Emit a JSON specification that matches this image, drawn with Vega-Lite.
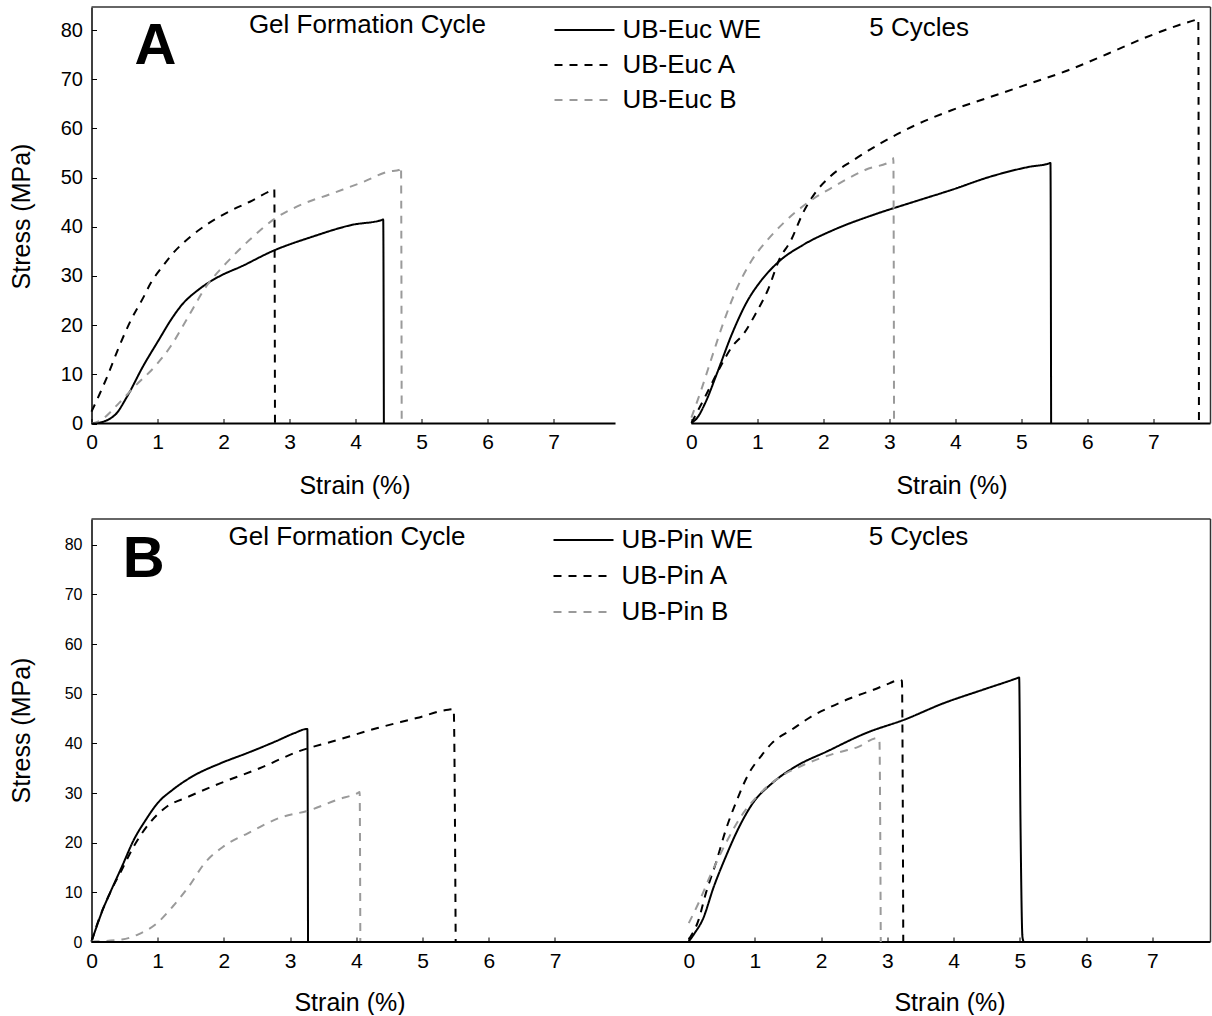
{
  "$schema": "https://vega.github.io/schema/vega-lite/v6.json",
  "background": "white",
  "padding": {"left": 9.5, "top": 6, "right": 0, "bottom": 0},
  "columns": 1,
  "spacing": 20,
  "resolve": {"scale": {"color": "independent", "strokeDash": "independent"}, "legend": {"color": "independent", "strokeDash": "independent"}},
  "config": {
    "font": "Liberation Sans",
    "view": {"stroke": null},
    "axis": {"grid": false, "labelColor": "#000", "titleColor": "#000", "tickColor": "#000", "titleFontWeight": "normal", "labelFont": "Liberation Sans", "titleFont": "Liberation Sans"},
    "text": {"font": "Liberation Sans", "color": "#000"},
    "line": {"interpolate": "monotone", "strokeWidth": 2}
  },
  "datasets": {
    "euc": [
      {"part": "left", "series": "UB-Euc WE", "strain": 0, "stress": 0},
      {"part": "left", "series": "UB-Euc WE", "strain": 0.09, "stress": 0.1},
      {"part": "left", "series": "UB-Euc WE", "strain": 0.36, "stress": 1.8},
      {"part": "left", "series": "UB-Euc WE", "strain": 0.54, "stress": 5.5},
      {"part": "left", "series": "UB-Euc WE", "strain": 0.78, "stress": 11.6},
      {"part": "left", "series": "UB-Euc WE", "strain": 1.02, "stress": 17},
      {"part": "left", "series": "UB-Euc WE", "strain": 1.2, "stress": 21},
      {"part": "left", "series": "UB-Euc WE", "strain": 1.38, "stress": 24.3},
      {"part": "left", "series": "UB-Euc WE", "strain": 1.62, "stress": 27.2},
      {"part": "left", "series": "UB-Euc WE", "strain": 1.92, "stress": 29.8},
      {"part": "left", "series": "UB-Euc WE", "strain": 2.28, "stress": 32},
      {"part": "left", "series": "UB-Euc WE", "strain": 2.75, "stress": 35.1},
      {"part": "left", "series": "UB-Euc WE", "strain": 3.35, "stress": 38},
      {"part": "left", "series": "UB-Euc WE", "strain": 3.95, "stress": 40.4},
      {"part": "left", "series": "UB-Euc WE", "strain": 4.4, "stress": 41.4},
      {"part": "left", "series": "UB-Euc WE", "strain": 4.42, "stress": 41.5},
      {"part": "left", "series": "UB-Euc WE", "strain": 4.43, "stress": 0},
      {"part": "left", "series": "UB-Euc A", "strain": 0, "stress": 2.4},
      {"part": "left", "series": "UB-Euc A", "strain": 0.12, "stress": 5.9},
      {"part": "left", "series": "UB-Euc A", "strain": 0.24, "stress": 9.6},
      {"part": "left", "series": "UB-Euc A", "strain": 0.42, "stress": 15.7},
      {"part": "left", "series": "UB-Euc A", "strain": 0.6, "stress": 21.1},
      {"part": "left", "series": "UB-Euc A", "strain": 0.78, "stress": 25.5},
      {"part": "left", "series": "UB-Euc A", "strain": 0.9, "stress": 28.6},
      {"part": "left", "series": "UB-Euc A", "strain": 1.08, "stress": 32},
      {"part": "left", "series": "UB-Euc A", "strain": 1.26, "stress": 35},
      {"part": "left", "series": "UB-Euc A", "strain": 1.5, "stress": 38},
      {"part": "left", "series": "UB-Euc A", "strain": 1.74, "stress": 40.4},
      {"part": "left", "series": "UB-Euc A", "strain": 2.04, "stress": 42.8},
      {"part": "left", "series": "UB-Euc A", "strain": 2.4, "stress": 45.1},
      {"part": "left", "series": "UB-Euc A", "strain": 2.75, "stress": 47.5},
      {"part": "left", "series": "UB-Euc A", "strain": 2.77, "stress": 47.6},
      {"part": "left", "series": "UB-Euc A", "strain": 2.78, "stress": 0},
      {"part": "left", "series": "UB-Euc B", "strain": 0, "stress": 0},
      {"part": "left", "series": "UB-Euc B", "strain": 0.12, "stress": 0.5},
      {"part": "left", "series": "UB-Euc B", "strain": 0.42, "stress": 4.2},
      {"part": "left", "series": "UB-Euc B", "strain": 0.66, "stress": 7.6},
      {"part": "left", "series": "UB-Euc B", "strain": 0.96, "stress": 11.6},
      {"part": "left", "series": "UB-Euc B", "strain": 1.2, "stress": 15.7},
      {"part": "left", "series": "UB-Euc B", "strain": 1.44, "stress": 21.1},
      {"part": "left", "series": "UB-Euc B", "strain": 1.74, "stress": 27.9},
      {"part": "left", "series": "UB-Euc B", "strain": 2.04, "stress": 32.6},
      {"part": "left", "series": "UB-Euc B", "strain": 2.4, "stress": 37.4},
      {"part": "left", "series": "UB-Euc B", "strain": 2.75, "stress": 41.4},
      {"part": "left", "series": "UB-Euc B", "strain": 3.11, "stress": 44.1},
      {"part": "left", "series": "UB-Euc B", "strain": 3.65, "stress": 46.8},
      {"part": "left", "series": "UB-Euc B", "strain": 4.13, "stress": 49.2},
      {"part": "left", "series": "UB-Euc B", "strain": 4.49, "stress": 51.2},
      {"part": "left", "series": "UB-Euc B", "strain": 4.67, "stress": 51.6},
      {"part": "left", "series": "UB-Euc B", "strain": 4.69, "stress": 52.2},
      {"part": "left", "series": "UB-Euc B", "strain": 4.7, "stress": 0},
      {"part": "right", "series": "UB-Euc WE", "strain": 0, "stress": 0.1},
      {"part": "right", "series": "UB-Euc WE", "strain": 0.09, "stress": 1.2},
      {"part": "right", "series": "UB-Euc WE", "strain": 0.21, "stress": 4.2},
      {"part": "right", "series": "UB-Euc WE", "strain": 0.39, "stress": 10.3},
      {"part": "right", "series": "UB-Euc WE", "strain": 0.62, "stress": 18.4},
      {"part": "right", "series": "UB-Euc WE", "strain": 0.86, "stress": 25.2},
      {"part": "right", "series": "UB-Euc WE", "strain": 1.03, "stress": 28.6},
      {"part": "right", "series": "UB-Euc WE", "strain": 1.33, "stress": 33},
      {"part": "right", "series": "UB-Euc WE", "strain": 1.69, "stress": 36.3},
      {"part": "right", "series": "UB-Euc WE", "strain": 2.16, "stress": 39.4},
      {"part": "right", "series": "UB-Euc WE", "strain": 2.75, "stress": 42.4},
      {"part": "right", "series": "UB-Euc WE", "strain": 3.35, "stress": 45},
      {"part": "right", "series": "UB-Euc WE", "strain": 3.94, "stress": 47.5},
      {"part": "right", "series": "UB-Euc WE", "strain": 4.53, "stress": 50.2},
      {"part": "right", "series": "UB-Euc WE", "strain": 5.12, "stress": 52.2},
      {"part": "right", "series": "UB-Euc WE", "strain": 5.42, "stress": 52.9},
      {"part": "right", "series": "UB-Euc WE", "strain": 5.44, "stress": 53},
      {"part": "right", "series": "UB-Euc WE", "strain": 5.45, "stress": 0},
      {"part": "right", "series": "UB-Euc A", "strain": 0, "stress": 0.1},
      {"part": "right", "series": "UB-Euc A", "strain": 0.21, "stress": 5.5},
      {"part": "right", "series": "UB-Euc A", "strain": 0.39, "stress": 10.3},
      {"part": "right", "series": "UB-Euc A", "strain": 0.62, "stress": 15.7},
      {"part": "right", "series": "UB-Euc A", "strain": 0.8, "stress": 18.4},
      {"part": "right", "series": "UB-Euc A", "strain": 0.98, "stress": 22.5},
      {"part": "right", "series": "UB-Euc A", "strain": 1.16, "stress": 27.2},
      {"part": "right", "series": "UB-Euc A", "strain": 1.33, "stress": 33.3},
      {"part": "right", "series": "UB-Euc A", "strain": 1.51, "stress": 37.3},
      {"part": "right", "series": "UB-Euc A", "strain": 1.69, "stress": 42.8},
      {"part": "right", "series": "UB-Euc A", "strain": 1.87, "stress": 46.8},
      {"part": "right", "series": "UB-Euc A", "strain": 2.1, "stress": 50.2},
      {"part": "right", "series": "UB-Euc A", "strain": 2.46, "stress": 53.6},
      {"part": "right", "series": "UB-Euc A", "strain": 2.87, "stress": 57},
      {"part": "right", "series": "UB-Euc A", "strain": 3.35, "stress": 60.4},
      {"part": "right", "series": "UB-Euc A", "strain": 3.94, "stress": 63.7},
      {"part": "right", "series": "UB-Euc A", "strain": 4.53, "stress": 66.4},
      {"part": "right", "series": "UB-Euc A", "strain": 5.12, "stress": 69.1},
      {"part": "right", "series": "UB-Euc A", "strain": 5.72, "stress": 71.9},
      {"part": "right", "series": "UB-Euc A", "strain": 6.31, "stress": 75.2},
      {"part": "right", "series": "UB-Euc A", "strain": 6.9, "stress": 78.6},
      {"part": "right", "series": "UB-Euc A", "strain": 7.38, "stress": 81},
      {"part": "right", "series": "UB-Euc A", "strain": 7.64, "stress": 82.1},
      {"part": "right", "series": "UB-Euc A", "strain": 7.68, "stress": 82.3},
      {"part": "right", "series": "UB-Euc A", "strain": 7.69, "stress": 0},
      {"part": "right", "series": "UB-Euc B", "strain": 0, "stress": 1.2},
      {"part": "right", "series": "UB-Euc B", "strain": 0.15, "stress": 6.9},
      {"part": "right", "series": "UB-Euc B", "strain": 0.33, "stress": 14.3},
      {"part": "right", "series": "UB-Euc B", "strain": 0.5, "stress": 21.1},
      {"part": "right", "series": "UB-Euc B", "strain": 0.68, "stress": 27.2},
      {"part": "right", "series": "UB-Euc B", "strain": 0.92, "stress": 33.3},
      {"part": "right", "series": "UB-Euc B", "strain": 1.15, "stress": 37.3},
      {"part": "right", "series": "UB-Euc B", "strain": 1.39, "stress": 40.7},
      {"part": "right", "series": "UB-Euc B", "strain": 1.75, "stress": 44.8},
      {"part": "right", "series": "UB-Euc B", "strain": 2.16, "stress": 48.2},
      {"part": "right", "series": "UB-Euc B", "strain": 2.64, "stress": 51.6},
      {"part": "right", "series": "UB-Euc B", "strain": 3.05, "stress": 53.6},
      {"part": "right", "series": "UB-Euc B", "strain": 3.06, "stress": 54},
      {"part": "right", "series": "UB-Euc B", "strain": 3.07, "stress": 0}
    ],
    "pin": [
      {"part": "left", "series": "UB-Pin WE", "strain": 0, "stress": 0.1},
      {"part": "left", "series": "UB-Pin WE", "strain": 0.08, "stress": 3.2},
      {"part": "left", "series": "UB-Pin WE", "strain": 0.17, "stress": 6.5},
      {"part": "left", "series": "UB-Pin WE", "strain": 0.28, "stress": 9.9},
      {"part": "left", "series": "UB-Pin WE", "strain": 0.46, "stress": 15.2},
      {"part": "left", "series": "UB-Pin WE", "strain": 0.64, "stress": 20.6},
      {"part": "left", "series": "UB-Pin WE", "strain": 0.82, "stress": 24.6},
      {"part": "left", "series": "UB-Pin WE", "strain": 1.0, "stress": 28},
      {"part": "left", "series": "UB-Pin WE", "strain": 1.23, "stress": 30.7},
      {"part": "left", "series": "UB-Pin WE", "strain": 1.53, "stress": 33.4},
      {"part": "left", "series": "UB-Pin WE", "strain": 1.95, "stress": 36},
      {"part": "left", "series": "UB-Pin WE", "strain": 2.36, "stress": 38.1},
      {"part": "left", "series": "UB-Pin WE", "strain": 2.78, "stress": 40.4},
      {"part": "left", "series": "UB-Pin WE", "strain": 3.07, "stress": 42.1},
      {"part": "left", "series": "UB-Pin WE", "strain": 3.25, "stress": 42.9},
      {"part": "left", "series": "UB-Pin WE", "strain": 3.26, "stress": 42.9},
      {"part": "left", "series": "UB-Pin WE", "strain": 3.27, "stress": 0},
      {"part": "left", "series": "UB-Pin A", "strain": 0, "stress": 0.1},
      {"part": "left", "series": "UB-Pin A", "strain": 0.11, "stress": 4.5},
      {"part": "left", "series": "UB-Pin A", "strain": 0.28, "stress": 9.9},
      {"part": "left", "series": "UB-Pin A", "strain": 0.46, "stress": 14.6},
      {"part": "left", "series": "UB-Pin A", "strain": 0.64, "stress": 19.3},
      {"part": "left", "series": "UB-Pin A", "strain": 0.88, "stress": 24},
      {"part": "left", "series": "UB-Pin A", "strain": 1.11, "stress": 27},
      {"part": "left", "series": "UB-Pin A", "strain": 1.47, "stress": 29.3},
      {"part": "left", "series": "UB-Pin A", "strain": 1.95, "stress": 32},
      {"part": "left", "series": "UB-Pin A", "strain": 2.54, "stress": 35},
      {"part": "left", "series": "UB-Pin A", "strain": 3.13, "stress": 38.4},
      {"part": "left", "series": "UB-Pin A", "strain": 3.72, "stress": 40.7},
      {"part": "left", "series": "UB-Pin A", "strain": 4.32, "stress": 43.1},
      {"part": "left", "series": "UB-Pin A", "strain": 4.91, "stress": 45.1},
      {"part": "left", "series": "UB-Pin A", "strain": 5.39, "stress": 46.8},
      {"part": "left", "series": "UB-Pin A", "strain": 5.47, "stress": 46.9},
      {"part": "left", "series": "UB-Pin A", "strain": 5.5, "stress": 0},
      {"part": "left", "series": "UB-Pin B", "strain": 0, "stress": 0.1},
      {"part": "left", "series": "UB-Pin B", "strain": 0.46, "stress": 0.5},
      {"part": "left", "series": "UB-Pin B", "strain": 0.7, "stress": 1.5},
      {"part": "left", "series": "UB-Pin B", "strain": 0.99, "stress": 3.8},
      {"part": "left", "series": "UB-Pin B", "strain": 1.23, "stress": 7.2},
      {"part": "left", "series": "UB-Pin B", "strain": 1.47, "stress": 11.2},
      {"part": "left", "series": "UB-Pin B", "strain": 1.71, "stress": 15.9},
      {"part": "left", "series": "UB-Pin B", "strain": 2.0, "stress": 19.3},
      {"part": "left", "series": "UB-Pin B", "strain": 2.36, "stress": 21.9},
      {"part": "left", "series": "UB-Pin B", "strain": 2.84, "stress": 25},
      {"part": "left", "series": "UB-Pin B", "strain": 3.31, "stress": 26.6},
      {"part": "left", "series": "UB-Pin B", "strain": 3.72, "stress": 28.7},
      {"part": "left", "series": "UB-Pin B", "strain": 4.02, "stress": 30},
      {"part": "left", "series": "UB-Pin B", "strain": 4.05, "stress": 30.2},
      {"part": "left", "series": "UB-Pin B", "strain": 4.06, "stress": 0},
      {"part": "right", "series": "UB-Pin WE", "strain": 0, "stress": 0.1},
      {"part": "right", "series": "UB-Pin WE", "strain": 0.09, "stress": 1.8},
      {"part": "right", "series": "UB-Pin WE", "strain": 0.21, "stress": 4.5},
      {"part": "right", "series": "UB-Pin WE", "strain": 0.38, "stress": 11.2},
      {"part": "right", "series": "UB-Pin WE", "strain": 0.56, "stress": 17.2},
      {"part": "right", "series": "UB-Pin WE", "strain": 0.74, "stress": 22.6},
      {"part": "right", "series": "UB-Pin WE", "strain": 0.97, "stress": 28},
      {"part": "right", "series": "UB-Pin WE", "strain": 1.26, "stress": 32},
      {"part": "right", "series": "UB-Pin WE", "strain": 1.62, "stress": 35.4},
      {"part": "right", "series": "UB-Pin WE", "strain": 2.09, "stress": 38.4},
      {"part": "right", "series": "UB-Pin WE", "strain": 2.68, "stress": 42.1},
      {"part": "right", "series": "UB-Pin WE", "strain": 3.26, "stress": 44.8},
      {"part": "right", "series": "UB-Pin WE", "strain": 3.85, "stress": 48.1},
      {"part": "right", "series": "UB-Pin WE", "strain": 4.44, "stress": 50.8},
      {"part": "right", "series": "UB-Pin WE", "strain": 4.97, "stress": 53.2},
      {"part": "right", "series": "UB-Pin WE", "strain": 4.99, "stress": 53.3},
      {"part": "right", "series": "UB-Pin WE", "strain": 5.01, "stress": 24.6},
      {"part": "right", "series": "UB-Pin WE", "strain": 5.04, "stress": 1},
      {"part": "right", "series": "UB-Pin WE", "strain": 5.06, "stress": 0},
      {"part": "right", "series": "UB-Pin A", "strain": 0, "stress": 0.5},
      {"part": "right", "series": "UB-Pin A", "strain": 0.15, "stress": 4.5},
      {"part": "right", "series": "UB-Pin A", "strain": 0.26, "stress": 9.9},
      {"part": "right", "series": "UB-Pin A", "strain": 0.41, "stress": 15.9},
      {"part": "right", "series": "UB-Pin A", "strain": 0.56, "stress": 22.6},
      {"part": "right", "series": "UB-Pin A", "strain": 0.71, "stress": 28},
      {"part": "right", "series": "UB-Pin A", "strain": 0.91, "stress": 34},
      {"part": "right", "series": "UB-Pin A", "strain": 1.09, "stress": 37.4},
      {"part": "right", "series": "UB-Pin A", "strain": 1.26, "stress": 40.1},
      {"part": "right", "series": "UB-Pin A", "strain": 1.56, "stress": 42.8},
      {"part": "right", "series": "UB-Pin A", "strain": 1.85, "stress": 45.4},
      {"part": "right", "series": "UB-Pin A", "strain": 2.15, "stress": 47.4},
      {"part": "right", "series": "UB-Pin A", "strain": 2.44, "stress": 49.1},
      {"part": "right", "series": "UB-Pin A", "strain": 2.79, "stress": 50.8},
      {"part": "right", "series": "UB-Pin A", "strain": 3.03, "stress": 52.1},
      {"part": "right", "series": "UB-Pin A", "strain": 3.18, "stress": 52.8},
      {"part": "right", "series": "UB-Pin A", "strain": 3.22, "stress": 52.6},
      {"part": "right", "series": "UB-Pin A", "strain": 3.24, "stress": 0},
      {"part": "right", "series": "UB-Pin B", "strain": 0, "stress": 3.8},
      {"part": "right", "series": "UB-Pin B", "strain": 0.15, "stress": 7.9},
      {"part": "right", "series": "UB-Pin B", "strain": 0.32, "stress": 13.2},
      {"part": "right", "series": "UB-Pin B", "strain": 0.56, "stress": 19.9},
      {"part": "right", "series": "UB-Pin B", "strain": 0.79, "stress": 25.3},
      {"part": "right", "series": "UB-Pin B", "strain": 1.03, "stress": 29.3},
      {"part": "right", "series": "UB-Pin B", "strain": 1.32, "stress": 32.7},
      {"part": "right", "series": "UB-Pin B", "strain": 1.74, "stress": 35.7},
      {"part": "right", "series": "UB-Pin B", "strain": 2.21, "stress": 38},
      {"part": "right", "series": "UB-Pin B", "strain": 2.56, "stress": 39.3},
      {"part": "right", "series": "UB-Pin B", "strain": 2.85, "stress": 41.1},
      {"part": "right", "series": "UB-Pin B", "strain": 2.88, "stress": 40.5},
      {"part": "right", "series": "UB-Pin B", "strain": 2.9, "stress": 0}
    ]
  },
  "concat": [
    {
      "width": 1119,
      "height": 416.5,
      "data": {"name": "euc"},
      "resolve": {"scale": {"x": "independent"}},
      "layer": [
        {
          "layer": [
            {
              "transform": [{"filter": "datum.part === 'left'"}],
              "mark": {"type": "line"},
              "encoding": {
                "x": {"field": "strain", "type": "quantitative", "scale": {"domain": [0, 16.955], "nice": false, "zero": false},
                      "axis": {"orient": "bottom", "values": [0, 1, 2, 3, 4, 5, 6, 7], "format": "d", "domain": false, "tickSize": -5, "tickWidth": 1, "labelFontSize": 21, "labelPadding": 13, "labelFlush": false,
                               "title": "Strain (%)", "titleFontSize": 25, "titleX": 263, "titleY": 69.5, "titleAlign": "center", "titleBaseline": "alphabetic"}},
                "y": {"field": "stress", "type": "quantitative", "scale": {"domain": [0, 84.7], "nice": false},
                      "axis": {"values": [0, 10, 20, 30, 40, 50, 60, 70, 80], "domain": true, "domainColor": "#000", "domainWidth": 1.5, "tickSize": -5, "tickWidth": 1, "labelFontSize": 20, "labelPadding": 14, "labelFlush": false,
                               "title": "Stress (MPa)", "titleFontSize": 25, "titleX": -70, "titleY": 209, "titleAngle": 270, "titleAlign": "center", "titleBaseline": "middle"}},
                "color": {"field": "series", "type": "nominal", "scale": {"domain": ["UB-Euc WE", "UB-Euc A", "UB-Euc B"], "range": ["#000000", "#000000", "#9a9a9a"]},
                          "legend": {"title": null, "orient": "none", "legendX": 462, "legendY": 10.5, "padding": 0, "symbolType": "stroke", "symbolSize": 3600, "symbolStrokeWidth": 2, "clipHeight": 25, "rowPadding": 8, "labelFontSize": 26, "labelOffset": 7, "labelColor": "#000", "labelLimit": 400}},
                "strokeDash": {"field": "series", "type": "nominal", "scale": {"domain": ["UB-Euc WE", "UB-Euc A", "UB-Euc B"], "range": [[1, 0], [8, 7], [8, 7]]},
                          "legend": {"title": null, "orient": "none", "legendX": 462, "legendY": 10.5, "padding": 0, "symbolType": "stroke", "symbolSize": 3600, "symbolStrokeWidth": 2, "clipHeight": 25, "rowPadding": 8, "labelFontSize": 26, "labelOffset": 7, "labelColor": "#000", "labelLimit": 400}}
              }
            },
            {
              "data": {"values": [{}]},
              "mark": {"type": "rule", "color": "#000", "strokeWidth": 2},
              "encoding": {"x": {"datum": 0}, "x2": {"datum": 7.94}, "y": {"datum": 0}}
            },
            {
              "data": {"values": [{}]},
              "mark": {"type": "rule", "color": "#333", "strokeWidth": 1.5},
              "encoding": {"x": {"datum": 0}, "x2": {"datum": 16.955}, "y": {"datum": 84.7}}
            },
            {
              "data": {"values": [{}]},
              "mark": {"type": "text", "fontSize": 26, "text": "Gel Formation Cycle"},
              "encoding": {"x": {"datum": 4.18}, "y": {"datum": 81}}
            },
            {
              "data": {"values": [{}]},
              "mark": {"type": "text", "fontSize": 58, "fontWeight": "bold", "text": "A"},
              "encoding": {"x": {"datum": 0.97}, "y": {"datum": 76.5}}
            }
          ]
        },
        {
          "layer": [
            {
              "transform": [{"filter": "datum.part === 'right'"}],
              "mark": {"type": "line"},
              "encoding": {
                "x": {"field": "strain", "type": "quantitative", "scale": {"domain": [-9.09, 7.865], "nice": false, "zero": false},
                      "axis": {"orient": "bottom", "values": [0, 1, 2, 3, 4, 5, 6, 7], "format": "d", "domain": false, "tickSize": -5, "tickWidth": 1, "labelFontSize": 21, "labelPadding": 13, "labelFlush": false,
                               "title": "Strain (%)", "titleFontSize": 25, "titleX": 860, "titleY": 69.5, "titleAlign": "center", "titleBaseline": "alphabetic"}},
                "y": {"field": "stress", "type": "quantitative"},
                "color": {"field": "series", "type": "nominal"},
                "strokeDash": {"field": "series", "type": "nominal"}
              }
            },
            {
              "data": {"values": [{}]},
              "mark": {"type": "rule", "color": "#000", "strokeWidth": 2},
              "encoding": {"x": {"datum": 0}, "x2": {"datum": 7.865}, "y": {"datum": 0}}
            },
            {
              "data": {"values": [{}]},
              "mark": {"type": "rule", "color": "#333", "strokeWidth": 1.5},
              "encoding": {"x": {"datum": 7.865}, "y": {"datum": 0}, "y2": {"datum": 84.7}}
            },
            {
              "data": {"values": [{}]},
              "mark": {"type": "text", "fontSize": 26, "text": "5 Cycles"},
              "encoding": {"x": {"datum": 3.45}, "y": {"datum": 80.4}}
            }
          ]
        }
      ]
    },
    {
      "width": 1119,
      "height": 423,
      "data": {"name": "pin"},
      "resolve": {"scale": {"x": "independent"}},
      "layer": [
        {
          "layer": [
            {
              "transform": [{"filter": "datum.part === 'left'"}],
              "mark": {"type": "line"},
              "encoding": {
                "x": {"field": "strain", "type": "quantitative", "scale": {"domain": [0, 16.9], "nice": false, "zero": false},
                      "axis": {"orient": "bottom", "values": [0, 1, 2, 3, 4, 5, 6, 7], "format": "d", "domain": false, "tickSize": -5, "tickWidth": 1, "labelFontSize": 21, "labelPadding": 13, "labelFlush": false,
                               "title": "Strain (%)", "titleFontSize": 25, "titleX": 258, "titleY": 68, "titleAlign": "center", "titleBaseline": "alphabetic"}},
                "y": {"field": "stress", "type": "quantitative", "scale": {"domain": [0, 85.2], "nice": false},
                      "axis": {"values": [0, 10, 20, 30, 40, 50, 60, 70, 80], "domain": true, "domainColor": "#000", "domainWidth": 1.5, "tickSize": -5, "tickWidth": 1, "labelFont": "Liberation Sans Narrow, Liberation Sans", "labelFontSize": 16, "labelPadding": 14.5, "labelFlush": false,
                               "title": "Stress (MPa)", "titleFontSize": 25, "titleX": -70, "titleY": 211, "titleAngle": 270, "titleAlign": "center", "titleBaseline": "middle"}},
                "color": {"field": "series", "type": "nominal", "scale": {"domain": ["UB-Pin WE", "UB-Pin A", "UB-Pin B"], "range": ["#000000", "#000000", "#9a9a9a"]},
                          "legend": {"title": null, "orient": "none", "legendX": 461, "legendY": 8.5, "padding": 0, "symbolType": "stroke", "symbolSize": 3600, "symbolStrokeWidth": 2, "clipHeight": 25, "rowPadding": 9, "labelFontSize": 26, "labelOffset": 7, "labelColor": "#000", "labelLimit": 400}},
                "strokeDash": {"field": "series", "type": "nominal", "scale": {"domain": ["UB-Pin WE", "UB-Pin A", "UB-Pin B"], "range": [[1, 0], [8, 7], [8, 7]]},
                          "legend": {"title": null, "orient": "none", "legendX": 461, "legendY": 8.5, "padding": 0, "symbolType": "stroke", "symbolSize": 3600, "symbolStrokeWidth": 2, "clipHeight": 25, "rowPadding": 9, "labelFontSize": 26, "labelOffset": 7, "labelColor": "#000", "labelLimit": 400}}
              }
            },
            {
              "data": {"values": [{}]},
              "mark": {"type": "rule", "color": "#000", "strokeWidth": 2},
              "encoding": {"x": {"datum": 0}, "x2": {"datum": 16.9}, "y": {"datum": 0}}
            },
            {
              "data": {"values": [{}]},
              "mark": {"type": "rule", "color": "#333", "strokeWidth": 1.5},
              "encoding": {"x": {"datum": 0}, "x2": {"datum": 16.9}, "y": {"datum": 85.2}}
            },
            {
              "data": {"values": [{}]},
              "mark": {"type": "text", "fontSize": 26, "text": "Gel Formation Cycle"},
              "encoding": {"x": {"datum": 3.86}, "y": {"datum": 81.5}}
            },
            {
              "data": {"values": [{}]},
              "mark": {"type": "text", "fontSize": 58, "fontWeight": "bold", "text": "B"},
              "encoding": {"x": {"datum": 0.79}, "y": {"datum": 77}}
            }
          ]
        },
        {
          "layer": [
            {
              "transform": [{"filter": "datum.part === 'right'"}],
              "mark": {"type": "line"},
              "encoding": {
                "x": {"field": "strain", "type": "quantitative", "scale": {"domain": [-9.02, 7.88], "nice": false, "zero": false},
                      "axis": {"orient": "bottom", "values": [0, 1, 2, 3, 4, 5, 6, 7], "format": "d", "domain": false, "tickSize": -5, "tickWidth": 1, "labelFontSize": 21, "labelPadding": 13, "labelFlush": false,
                               "title": "Strain (%)", "titleFontSize": 25, "titleX": 858, "titleY": 68, "titleAlign": "center", "titleBaseline": "alphabetic"}},
                "y": {"field": "stress", "type": "quantitative"},
                "color": {"field": "series", "type": "nominal"},
                "strokeDash": {"field": "series", "type": "nominal"}
              }
            },
            {
              "data": {"values": [{}]},
              "mark": {"type": "rule", "color": "#333", "strokeWidth": 1.5},
              "encoding": {"x": {"datum": 7.88}, "y": {"datum": 0}, "y2": {"datum": 85.2}}
            },
            {
              "data": {"values": [{}]},
              "mark": {"type": "text", "fontSize": 26, "text": "5 Cycles"},
              "encoding": {"x": {"datum": 3.47}, "y": {"datum": 81.6}}
            }
          ]
        }
      ]
    }
  ]
}
